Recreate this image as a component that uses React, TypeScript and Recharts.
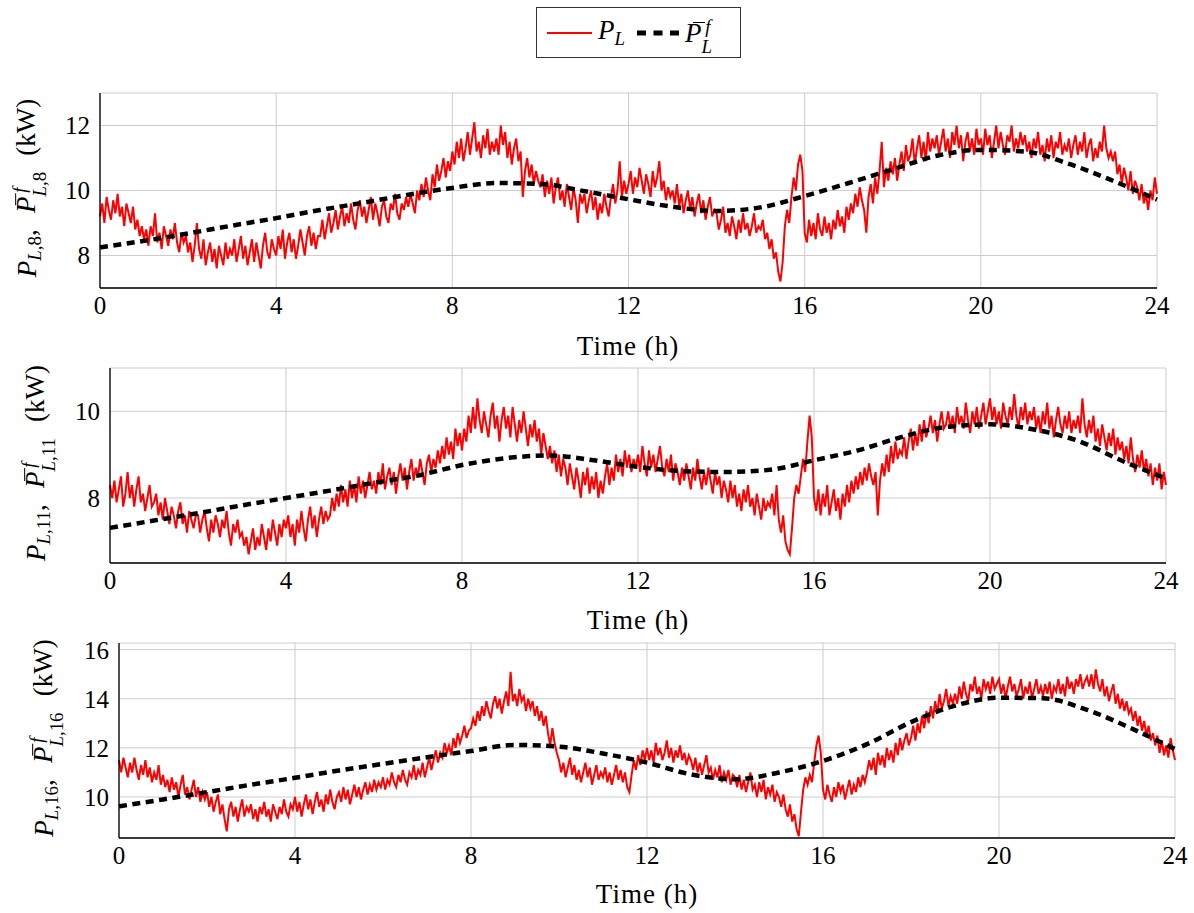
import React from "react";
import { LineChart, Line, XAxis, YAxis, CartesianGrid } from "recharts";

// measured load, 3-minute samples (20 per hour), t = 0 .. 24 h
const PL8 = [
  9.2, 9.6, 9.0, 9.8, 9.4, 9.1, 9.7, 9.3, 9.9, 9.2, 9.5, 8.9, 9.6, 9.3, 9.0, 9.5, 8.8, 9.1, 8.6, 8.9,
  8.5, 8.8, 8.3, 8.9, 8.6, 9.3, 8.4, 8.7, 8.2, 8.9, 8.6, 8.3, 8.8, 8.5, 9.0, 8.4, 8.1, 8.7, 8.4, 8.6,
  8.1, 8.4, 7.8, 8.3, 9.0, 8.2, 7.9, 8.5, 7.7, 8.1, 8.4, 7.8, 8.2, 7.6, 8.3, 8.0, 7.7, 8.4, 7.9, 8.2,
  8.0, 8.5, 7.8, 8.2, 8.6, 7.9, 8.3, 7.7, 8.1, 8.5, 7.8, 8.4, 8.0, 7.6, 8.3, 8.7, 8.1, 7.9, 8.5, 8.2,
  8.0, 8.6, 8.2, 8.8, 7.9, 8.4, 8.7, 8.1, 8.5, 7.9, 8.3, 8.8, 8.4, 8.0, 8.6, 8.9, 8.3, 8.7, 8.2, 8.6,
  8.6, 9.1, 8.5, 8.9, 9.3, 8.7, 9.0, 9.4, 8.8, 9.2, 9.5, 8.9, 9.3, 9.0, 9.6, 9.1, 8.8, 9.4, 9.7, 9.2,
  9.5, 9.0, 9.4, 9.8, 9.1, 9.6, 9.3, 8.9, 9.5, 9.7, 9.2, 9.0, 9.6, 9.4, 9.9, 9.3, 9.1, 9.6, 9.4, 9.8,
  9.5, 9.9, 9.6, 9.3, 10.0, 9.7, 10.2, 9.8, 10.4, 10.0, 9.7, 10.5, 10.1, 10.8, 10.3, 10.6, 11.0, 10.4, 10.9, 10.6,
  11.2, 10.8, 11.5, 11.0, 11.6, 10.9, 11.3, 11.8, 11.1, 11.6, 12.1, 11.2, 11.5, 11.0, 11.7, 11.3, 11.9, 11.1, 11.5, 11.2,
  11.6, 11.1, 12.0, 11.4, 11.8, 11.0, 11.5, 10.8, 11.3, 11.6, 10.9, 11.2, 9.8, 10.6, 11.0, 10.4, 10.8, 10.2, 10.6, 10.3,
  10.1, 10.5, 9.8, 10.3, 9.9, 10.4, 9.6, 10.1, 10.4, 9.7, 10.0, 9.5, 10.2, 9.8, 9.4, 10.1, 9.7, 9.0, 9.9, 9.6,
  9.9, 9.3, 9.7, 10.0, 9.4, 9.8, 9.1, 9.6, 9.3, 9.9, 9.5, 9.2, 9.8, 10.2, 9.6, 10.0, 10.9, 9.8, 10.3, 9.9,
  10.2, 10.6, 9.9, 10.4, 10.1, 10.7, 10.3, 9.9, 10.5, 10.2, 9.8, 10.6, 10.1, 10.4, 10.9, 10.0, 10.3, 9.7, 10.1, 9.8,
  10.0, 9.6, 10.2, 9.5, 9.9, 9.3, 9.7, 10.0, 9.4, 9.8, 9.2, 9.6, 9.9, 9.3, 9.7, 9.1, 9.5, 9.8, 9.2, 9.4,
  9.3, 8.8, 9.1, 9.5, 8.7, 9.0, 8.6, 9.2, 8.9, 8.5, 9.1, 8.7, 9.3, 8.8, 9.0, 8.6, 8.9, 9.3, 8.7, 8.9,
  8.8, 9.1, 8.5, 8.7, 8.2, 8.5, 7.9, 8.1, 7.5, 7.2, 7.8, 8.9, 9.4, 9.0, 9.8, 10.4, 10.0, 10.8, 11.1, 10.6,
  8.7, 8.4, 9.1, 8.6, 9.0, 8.5, 9.3, 8.8, 8.6, 9.2, 8.7, 9.0, 8.5, 9.1, 8.8, 9.4, 8.9, 9.2, 8.7, 9.5,
  9.1, 9.6, 9.3, 9.9, 9.5, 10.1, 9.7, 9.4, 8.7, 9.8, 10.2, 9.6, 10.4, 9.9, 10.6, 11.5, 10.1, 10.7, 10.3, 10.9,
  10.5, 11.0, 10.3, 10.8, 11.2, 10.6, 11.4, 10.9, 11.1, 11.6, 10.8, 11.3, 11.7, 11.0, 11.5, 10.9, 11.8, 11.2, 11.6, 11.3,
  11.7, 11.1, 11.5, 11.9, 11.2, 11.6, 11.0, 11.8, 11.4, 12.0, 11.3, 11.7, 10.9, 11.5, 11.8, 11.2, 11.6, 11.1, 11.9, 11.4,
  11.6, 11.1, 11.9, 11.4, 11.7, 11.0, 11.5, 12.0, 11.3, 11.8, 11.4, 11.1, 11.7, 11.5, 12.0, 11.2, 11.6, 11.3, 11.8, 11.4,
  11.7, 11.2, 11.5, 11.0, 11.6, 11.3, 11.8, 11.1, 11.4, 10.9, 11.6, 11.2, 11.7, 11.0, 11.5, 11.3, 11.8, 11.1, 11.4, 11.2,
  11.6, 11.0, 11.4, 11.7, 11.1, 11.5, 11.2, 11.8, 11.0, 11.4, 11.6, 10.9, 11.3, 11.0, 11.5, 11.2, 12.0, 11.3, 11.0, 11.2,
  10.9, 11.2, 10.5, 10.8, 10.2, 10.7, 10.4, 10.0, 10.6, 9.9, 10.3, 10.1, 9.7, 10.2, 9.6, 9.9, 9.4, 10.0, 9.7, 10.4,
  9.9,
];

const PL11 = [
  8.3, 8.0, 8.4, 7.9, 8.2, 8.5, 7.8, 8.1, 8.6, 8.0, 8.3, 7.8, 8.2, 8.5, 7.9, 8.1, 7.7, 8.0, 8.3, 7.8,
  7.9, 8.1, 7.6, 7.9, 7.5, 8.0, 7.7, 7.4, 7.8, 7.6, 7.3, 7.7, 7.9, 7.4, 7.6, 7.2, 7.7, 7.5, 7.3, 7.6,
  7.6, 7.2, 7.5, 7.7, 7.3, 7.0, 7.5, 7.2, 7.6, 7.4, 7.1, 7.5, 7.3, 7.7, 7.2, 6.9, 7.4, 7.2, 7.5, 7.1,
  7.2, 6.9, 7.1, 6.7, 7.0, 7.3, 6.8, 7.1, 6.9, 7.4, 7.1, 6.8, 7.3, 7.0, 7.5, 7.2, 6.9, 7.4, 7.1, 7.5,
  7.3, 7.6, 7.1, 7.4, 6.9, 7.5, 7.2, 7.7, 7.3, 7.0, 7.5, 7.8, 7.3, 7.6, 7.1, 7.5, 7.8, 7.4, 7.7, 7.5,
  7.6, 8.0, 7.7, 8.1, 7.8, 8.3, 7.9, 8.2, 7.8, 8.4, 8.0, 8.3, 7.9, 8.5, 8.1, 8.4, 8.0, 8.3, 8.6, 8.2,
  8.4, 8.1, 8.6, 8.3, 8.8, 8.2, 8.5, 8.7, 8.3, 8.6, 8.1, 8.5, 8.8, 8.4, 8.7, 8.2, 8.6, 8.9, 8.4, 8.7,
  8.5, 8.9, 8.6, 8.3, 8.8, 9.0, 8.6, 8.9, 8.7, 9.1, 8.8, 9.2, 8.9, 9.4, 9.0, 9.3, 8.9, 9.6, 9.2, 9.5,
  9.1, 9.6, 9.3, 9.9, 9.5, 10.1, 9.6, 10.3, 9.8, 9.5, 10.0, 9.7, 9.4, 9.9, 10.2, 9.6, 9.9, 9.3, 9.8, 10.1,
  9.6, 9.9, 9.4, 10.1, 9.7, 9.3, 9.8, 9.5, 10.0, 9.6, 9.2, 9.7, 9.4, 9.8, 9.3, 9.6, 9.0, 9.5, 9.2, 8.9,
  9.2, 8.8, 9.1, 8.6, 9.0, 8.5, 8.9, 8.7, 8.3, 8.8, 8.5, 8.2, 8.7, 8.4, 8.0, 8.6, 8.3, 8.7, 8.1, 8.5,
  8.2, 8.6, 8.0, 8.4, 8.1, 8.5, 8.8, 8.3, 8.7, 8.4, 9.0, 8.6, 8.9, 8.5, 9.1, 8.7, 9.0, 8.6, 8.9, 8.7,
  9.0, 8.6, 9.2, 8.8, 8.5, 9.1, 8.7, 9.0, 8.6, 8.9, 9.2, 8.7, 8.5, 8.9, 8.6, 9.0, 8.4, 8.8, 8.6, 8.3,
  8.7, 8.4, 8.8, 8.5, 8.2, 8.7, 8.4, 8.9, 8.5, 8.2, 8.6, 8.3, 8.7, 8.4, 8.1, 8.6, 8.3, 8.5, 8.0, 8.4,
  8.2, 7.9, 8.4, 8.0, 8.3, 7.8, 8.1, 7.7, 8.2, 7.9, 8.3, 7.8, 8.0, 7.6, 8.1, 7.8, 7.5, 8.0, 7.7, 7.9,
  7.8, 8.1, 7.6, 8.3, 7.5, 7.2, 7.6, 7.0, 6.8, 6.7, 7.3, 8.0, 8.3, 8.1, 8.5, 8.9, 8.6, 9.3, 9.9, 9.4,
  8.0, 7.7, 8.2, 7.6, 8.1, 7.8, 8.3, 7.6, 7.9, 8.2, 7.7, 8.0, 7.5, 8.1, 7.8, 8.3, 7.9, 8.4, 8.1, 8.5,
  8.2, 8.6, 8.3, 8.7, 8.4, 8.8, 8.5, 8.3, 8.6, 7.6, 8.4, 8.8, 8.5, 9.0, 8.6, 9.2, 8.8, 9.3, 8.9, 9.1,
  9.0, 9.4, 8.9, 9.3, 9.6, 9.1, 9.5, 9.2, 9.7, 9.3, 9.8, 9.4, 9.6, 9.9, 9.5, 9.8, 9.3, 9.7, 10.0, 9.6,
  9.7, 10.0, 9.6, 9.9, 9.5, 10.1, 9.7, 9.9, 9.6, 10.2, 9.8, 9.5, 10.0, 9.7, 10.1, 9.6, 9.9, 10.2, 9.7, 10.0,
  10.3, 9.8, 10.1, 9.7, 10.0, 9.6, 10.2, 9.9, 9.7, 10.1, 9.8, 10.4, 9.9, 9.6, 10.1, 9.8, 10.2, 9.7, 10.0, 9.8,
  10.1, 9.6, 9.9, 9.5, 10.0, 9.7, 10.2, 9.6, 9.9, 9.4, 9.8, 10.1, 9.7, 9.5, 9.9, 9.6, 10.0, 9.5, 9.8, 9.6,
  9.9, 9.5, 10.3, 9.7, 9.4, 9.8, 9.5, 9.9, 9.3, 9.6, 9.2, 9.7, 9.4, 9.1, 9.5, 9.2, 9.6, 9.0, 9.4, 9.1,
  9.3, 8.9, 9.2, 8.8, 9.4, 8.9, 8.6, 9.0, 8.7, 9.1, 8.6, 8.9, 8.5, 8.8, 8.3, 8.7, 8.4, 8.8, 8.2, 8.6,
  8.3,
];

const PL16 = [
  11.5, 11.0, 11.6, 11.2, 10.8, 11.4, 11.0, 11.6, 11.1, 10.7, 11.3, 10.9, 11.5, 10.8, 11.2, 10.6, 11.0, 10.7, 11.3, 10.5,
  10.9, 10.4, 10.7, 10.2, 10.8, 10.3, 10.6, 10.0, 10.5, 10.9, 10.1, 10.4, 9.9, 10.3, 10.7, 10.0, 10.4, 9.8, 10.2, 9.9,
  10.2, 9.6, 10.0, 9.4, 9.8, 10.1, 9.3, 9.7, 9.1, 8.6, 9.5, 9.8, 9.2, 9.6, 9.0, 9.5, 9.9, 9.2, 9.6, 9.4,
  9.7, 9.1, 9.5, 9.0, 9.6, 9.3, 9.8, 9.2, 9.5, 9.0, 9.7, 9.4, 9.1, 9.6, 9.3, 9.9, 9.4, 9.2, 9.7, 9.5,
  10.0, 9.4, 9.8, 9.2, 9.7, 10.1, 9.5, 9.9, 9.3, 9.8, 10.2, 9.6, 9.9, 9.4, 10.1, 9.7, 10.3, 9.8, 9.5, 10.0,
  10.2, 9.8, 10.4, 9.9, 10.3, 9.7, 10.1, 10.5, 10.0, 10.4, 9.9, 10.3, 10.6, 10.1, 10.5, 10.2, 10.7, 10.3, 10.6, 10.4,
  10.8, 10.3, 10.7, 10.5, 11.0, 10.6, 10.4, 10.9, 10.6, 11.1, 10.7, 10.5, 11.0, 10.8, 11.3, 10.7, 11.1, 10.9, 11.4, 10.8,
  11.2, 11.6, 11.1, 11.5, 11.9, 11.4, 11.8, 11.6, 12.2, 11.8, 12.1, 11.7, 12.4, 12.0, 12.6, 12.2, 12.5, 12.9, 12.4, 12.7,
  12.8, 13.2, 12.9, 13.5, 13.1, 13.7, 13.3, 13.9, 13.5, 13.2, 13.8, 14.1, 13.6, 14.0, 13.4, 13.9, 14.3, 13.7, 15.1, 13.9,
  14.2, 13.7, 14.4, 13.9, 14.1, 13.5, 14.0, 13.6, 13.9, 13.3, 13.7, 13.1, 13.5, 12.9, 13.3, 12.6, 12.1, 12.8, 12.2, 11.8,
  11.5, 11.0, 11.4, 10.8, 11.2, 11.6, 10.9, 11.3, 10.7, 11.1, 10.6, 11.0, 11.4, 10.8, 11.2, 10.5, 10.9, 11.3, 10.7, 11.0,
  10.8, 11.2, 10.6, 11.0, 10.5, 10.9, 11.3, 10.7, 11.1, 10.6, 11.0, 10.4, 10.2, 10.9, 11.5, 11.1, 11.7, 11.3, 11.9, 11.5,
  12.0, 11.5, 11.9, 11.4, 12.2, 11.7, 12.0, 11.5, 11.8, 12.3, 11.6, 12.0, 11.4, 11.9, 11.6, 12.1, 11.5, 11.8, 11.3, 11.7,
  11.5, 11.1, 11.6, 11.0, 11.4, 10.9, 11.3, 11.7, 11.0, 11.2, 10.7, 11.1, 10.8, 11.3, 10.6, 11.0, 10.7, 11.1, 10.5, 10.9,
  10.8, 10.4, 10.9, 10.3, 10.7, 10.2, 10.6, 11.0, 10.3, 10.5, 10.0, 10.6, 10.2, 10.7, 9.9, 10.4, 10.1, 10.5, 9.8, 10.2,
  10.0, 9.6, 10.1, 9.5, 9.2, 9.7, 9.0, 9.3, 8.7, 8.4, 9.4, 10.3, 10.8, 10.5, 10.9, 10.6, 11.4, 12.1, 12.5, 11.8,
  10.3, 9.9, 10.5, 10.1, 9.8, 10.4, 10.0, 10.6, 10.2, 10.5, 9.9, 10.3, 10.7, 10.1, 10.5, 10.2, 10.8, 10.4, 10.9, 10.6,
  11.0, 11.5, 11.1, 11.6, 10.9, 11.8, 11.3, 11.7, 11.2, 12.0, 11.5, 11.9, 11.4, 12.2, 11.7, 12.4, 11.9, 12.3, 12.6, 12.1,
  12.4, 12.9, 12.3, 13.0, 12.6, 13.3, 12.8, 13.5, 13.0, 13.7, 13.2, 13.9, 13.4, 14.2, 13.6, 13.9, 14.4, 13.7, 14.1, 13.8,
  14.2, 13.8, 14.5, 14.0, 14.7, 14.2, 13.9, 14.6, 14.3, 14.9, 14.2, 14.5, 14.0, 14.8, 14.4, 14.7, 14.2, 14.9, 14.4, 14.6,
  14.8, 14.2, 14.6, 14.0, 14.5, 14.9, 14.3, 14.6, 14.1, 14.4, 14.8, 14.0, 14.5, 14.2, 14.7, 14.0, 14.4, 14.8, 14.2, 14.5,
  14.1, 14.6, 14.2, 14.7, 14.0, 14.5, 14.3, 14.8, 14.2, 14.6, 14.1, 14.9, 14.4, 14.7, 14.2, 14.8, 14.5, 15.0, 14.4, 14.7,
  14.9, 14.5, 15.0, 14.4, 15.2, 14.6, 14.3, 14.8, 14.1, 14.5, 13.9, 14.3, 14.6, 13.8, 14.2, 13.6, 14.0, 13.5, 13.9, 13.4,
  13.6, 13.1, 13.5, 12.9, 13.3, 12.7, 13.1, 12.5, 12.9, 12.3, 12.6, 12.1, 12.5, 11.8, 12.3, 11.7, 12.1, 11.6, 12.4, 11.9,
  11.5,
];

// filtered forecast, hourly
const HOURS = [0, 1, 2, 3, 4, 5, 6, 7, 8, 9, 10, 11, 12, 13, 14, 15, 16, 17, 18, 19, 20, 21, 22, 23, 24];
const PBAR8 = [8.25, 8.45, 8.68, 8.92, 9.15, 9.4, 9.63, 9.87, 10.08, 10.23, 10.2, 9.98, 9.73, 9.5, 9.37, 9.48, 9.83, 10.23, 10.65, 11.07, 11.25, 11.2, 10.82, 10.3, 9.72];
const PBAR11 = [7.31, 7.48, 7.65, 7.83, 8.0, 8.17, 8.35, 8.52, 8.76, 8.92, 8.98, 8.87, 8.72, 8.62, 8.6, 8.65, 8.87, 9.1, 9.41, 9.64, 9.7, 9.58, 9.32, 8.86, 8.45];
const PBAR16 = [9.62, 9.9, 10.2, 10.5, 10.78, 11.08, 11.35, 11.62, 11.87, 12.12, 12.05, 11.77, 11.4, 10.92, 10.72, 11.0, 11.47, 12.15, 13.05, 13.72, 14.04, 14.02, 13.55, 12.8, 11.95];

const X_TICKS = [0, 4, 8, 12, 16, 20, 24];
const SAMPLES_PER_HOUR = 20;

const W = 1194;
const FONT = '"Liberation Serif", "DejaVu Serif", "Times New Roman", serif';
const FS = 25;

const toSeries = (vals: number[]) => vals.map((v, i) => ({ t: i / SAMPLES_PER_HOUR, v }));
const toHourly = (vals: number[]) => vals.map((v, i) => ({ t: HOURS[i], v }));

function Sub({ children }: { children: React.ReactNode }) {
  return <span style={{ fontSize: "0.7em", verticalAlign: "-0.3em" }}>{children}</span>;
}

function PBar() {
  return (
    <span style={{ position: "relative", display: "inline-block" }}>
      <i>P</i>
      <span
        style={{
          position: "absolute",
          left: "0.28em",
          width: "0.45em",
          top: "0.04em",
          borderTop: "1.5px solid #000",
        }}
      />
    </span>
  );
}

function SupSub({ sup, sub }: { sup: React.ReactNode; sub: React.ReactNode }) {
  return (
    <span
      style={{
        display: "inline-flex",
        flexDirection: "column",
        fontSize: "0.7em",
        lineHeight: 1.05,
        verticalAlign: "0.5em",
        marginLeft: "0.2em",
      }}
    >
      <span>{sup}</span>
      <span style={{ marginLeft: "-0.2em" }}>{sub}</span>
    </span>
  );
}

function YLabel({ n, x, y }: { n: string; x: number; y: number }) {
  return (
    <div
      style={{
        position: "absolute",
        left: x,
        top: y,
        transform: "translate(-50%, -50%) rotate(-90deg)",
        whiteSpace: "nowrap",
        fontFamily: FONT,
        fontSize: 27,
        lineHeight: 1,
      }}
    >
      <i>P</i>
      <Sub>
        <i>L</i>,{n}
      </Sub>
      <span>,</span>
      <span style={{ marginLeft: "0.6em" }} />
      <PBar />
      <SupSub
        sup={<i>f</i>}
        sub={
          <>
            <i>L</i>,{n}
          </>
        }
      />
      <span style={{ marginLeft: "0.6em" }}>(kW)</span>
    </div>
  );
}

function XLabel({ x, y }: { x: number; y: number }) {
  return (
    <div
      style={{
        position: "absolute",
        left: x,
        top: y,
        transform: "translate(-50%, -50%)",
        whiteSpace: "nowrap",
        fontFamily: FONT,
        fontSize: 27,
        letterSpacing: 1,
        lineHeight: 1,
      }}
    >
      Time (h)
    </div>
  );
}

interface PanelProps {
  top: number;
  bottom: number;
  left: number;
  right: number;
  domain: [number, number];
  yTicks: number[];
  load: number[];
  forecast: number[];
}

function Panel({ top, bottom, left, right, domain, yTicks, load, forecast }: PanelProps) {
  const mTop = 20;
  const axisH = 50;
  const h = mTop + (bottom - top) + axisH;
  const tickStyle = { fontSize: FS, fill: "#000", fontFamily: FONT };
  return (
    <div style={{ position: "absolute", left: 0, top: top - mTop }}>
      <LineChart width={W} height={h} margin={{ top: mTop, right: W - right, bottom: 0, left: 0 }}>
        <CartesianGrid stroke="#cccccc" strokeWidth={1} />
        <XAxis
          type="number"
          dataKey="t"
          domain={[0, 24]}
          ticks={X_TICKS}
          height={axisH}
          tick={tickStyle}
          tickLine={false}
          tickSize={0}
          tickMargin={8}
          axisLine={{ stroke: "#000", strokeWidth: 1.3 }}
        />
        <YAxis
          type="number"
          domain={domain}
          allowDataOverflow
          ticks={yTicks}
          width={left}
          tick={tickStyle}
          tickLine={false}
          tickSize={0}
          tickMargin={10}
          axisLine={{ stroke: "#000", strokeWidth: 1.3 }}
        />
        <Line
          data={toSeries(load)}
          dataKey="v"
          type="linear"
          stroke="#ff0000"
          strokeWidth={2}
          dot={false}
          activeDot={false}
          isAnimationActive={false}
        />
        <Line
          data={toHourly(forecast)}
          dataKey="v"
          type="monotone"
          stroke="#000"
          strokeWidth={4.5}
          strokeDasharray="8 5.5"
          dot={false}
          activeDot={false}
          isAnimationActive={false}
        />
      </LineChart>
    </div>
  );
}

function Legend() {
  return (
    <div
      style={{
        position: "absolute",
        left: 536,
        top: 7,
        width: 203,
        height: 49,
        border: "1px solid #333",
        fontFamily: FONT,
        fontSize: 27,
        lineHeight: 1,
      }}
    >
      <svg style={{ position: "absolute", left: 0, top: 0 }} width={203} height={49}>
        <line x1={10} x2={55} y1={25} y2={25} stroke="#ff0000" strokeWidth={2} />
        <line x1={100} x2={142} y1={25} y2={25} stroke="#000" strokeWidth={5} strokeDasharray="9 7.5" />
      </svg>
      <span style={{ position: "absolute", left: 61, top: 9 }}>
        <i>P</i>
        <Sub>
          <i>L</i>
        </Sub>
      </span>
      <span style={{ position: "absolute", left: 148, top: 9 }}>
        <PBar />
        <SupSub sup={<i>f</i>} sub={<i>L</i>} />
      </span>
    </div>
  );
}

export default function App() {
  return (
    <div style={{ position: "absolute", left: 0, top: 0, width: W, height: 913, background: "#fff" }}>
      <Legend />
      <Panel top={93} bottom={288} left={100} right={1157} domain={[7, 13]} yTicks={[8, 10, 12]} load={PL8} forecast={PBAR8} />
      <Panel top={368} bottom={563} left={110} right={1166} domain={[6.5, 11]} yTicks={[8, 10]} load={PL11} forecast={PBAR11} />
      <Panel top={643} bottom={838} left={119} right={1175} domain={[8.33, 16.27]} yTicks={[10, 12, 14, 16]} load={PL16} forecast={PBAR16} />
      <YLabel n="8" x={30} y={188} />
      <YLabel n="11" x={39} y={463} />
      <YLabel n="16" x={47} y={738} />
      <XLabel x={628} y={346} />
      <XLabel x={638} y={620} />
      <XLabel x={647} y={894} />
    </div>
  );
}
